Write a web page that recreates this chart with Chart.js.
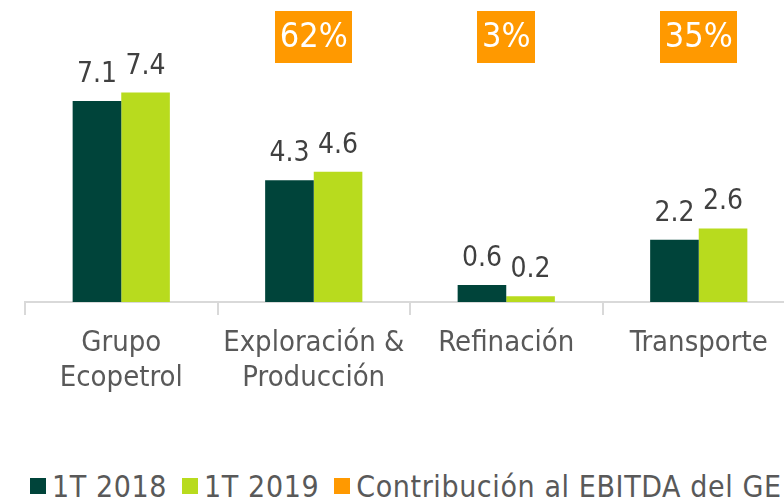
<!DOCTYPE html>
<html>
<head>
<meta charset="utf-8">
<script src="https://cdn.jsdelivr.net/npm/chart.js@4"></script>
<style>
  html, body { margin: 0; padding: 0; background: #fff; overflow: hidden; width: 784px; height: 497px; }
  #wrap { position: absolute; left: 0; top: 0; width: 800px; height: 420px; }
  #legend { position: absolute; left: 30px; top: 470px; height: 32px; display: flex; align-items: center; white-space: nowrap;
            font-family: 'DejaVu Sans Condensed', 'DejaVu Sans', sans-serif; font-size: 30px; letter-spacing: 0.6px; color: #595959; }
  .item { display: flex; align-items: center; margin-right: 15px; }
  .sw { width: 16px; height: 16px; margin-right: 6px; flex: none; }
</style>
</head>
<body>
<div id="wrap"><canvas id="c"></canvas></div>
<div id="legend"></div>
<script>
// ---- data ----
const categories = [['Grupo', 'Ecopetrol'], ['Exploración &', 'Producción'], 'Refinación', 'Transporte'];
const series2018 = [7.1, 4.3, 0.6, 2.2];
const series2019 = [7.4, 4.6, 0.2, 2.6];
const contribution = [null, 62, 3, 35];
const seriesLabels = ['1T 2018', '1T 2019', 'Contribución al EBITDA del GE'];
const seriesColors = ['#00443A', '#B8DB1E', '#FF9900'];

const FONT = "'DejaVu Sans Condensed', 'DejaVu Sans', sans-serif";
Chart.defaults.font.family = FONT;

const valueLabels = {
  id: 'valueLabels',
  afterDatasetsDraw(chart) {
    const ctx = chart.ctx;
    ctx.save();
    ctx.font = "28px " + FONT;
    ctx.fillStyle = '#404040';
    ctx.textAlign = 'center';
    ctx.textBaseline = 'alphabetic';
    chart.data.datasets.forEach((ds, di) => {
      const meta = chart.getDatasetMeta(di);
      meta.data.forEach((el, i) => {
        const v = ds.data[i];
        if (v == null) return;
        ctx.fillText(v.toFixed(1), el.x, el.y - 19);
      });
    });
    ctx.restore();
  }
};

const contribBoxes = {
  id: 'contribBoxes',
  afterDraw(chart) {
    const ctx = chart.ctx;
    const xs = chart.scales.x;
    ctx.save();
    ctx.font = "34px " + FONT;
    ctx.textAlign = 'center';
    ctx.textBaseline = 'middle';
    contribution.forEach((v, i) => {
      if (v == null) return;
      const txt = v + '%';
      const cx = xs.getPixelForValue(i);
      const w = ctx.measureText(txt).width + 9;
      const top = 11, h = 52;
      ctx.fillStyle = seriesColors[2];
      ctx.fillRect(Math.round(cx - w / 2), top, Math.round(w), h);
      ctx.fillStyle = '#FFFFFF';
      ctx.fillText(txt, cx, top + h / 2 + 1);
    });
    ctx.restore();
  }
};

new Chart(document.getElementById('c'), {
  type: 'bar',
  data: {
    labels: categories,
    datasets: [
      { label: seriesLabels[0], data: series2018, backgroundColor: seriesColors[0] },
      { label: seriesLabels[1], data: series2019, backgroundColor: seriesColors[1] }
    ]
  },
  options: {
    responsive: true,
    maintainAspectRatio: false,
    animation: false,
    layout: { padding: { left: 25, right: 5, top: 19, bottom: 0 } },
    datasets: { bar: { categoryPercentage: 0.505, barPercentage: 1.0 } },
    plugins: { legend: { display: false }, tooltip: { enabled: false } },
    scales: {
      x: {
        grid: { display: true, drawOnChartArea: false, drawTicks: true, tickLength: 13, color: '#D9D9D9', lineWidth: 2, offset: true },
        border: { display: true, color: '#D9D9D9', width: 2 },
        ticks: { color: '#595959', font: { size: 29, lineHeight: 1.24 }, padding: 10, maxRotation: 0, autoSkip: false },
        afterFit(s) { s.height = 118; }
      },
      y: {
        display: false,
        min: 0,
        max: 10
      }
    }
  },
  plugins: [valueLabels, contribBoxes]
});

// legend (HTML, from series names/colours)
const lg = document.getElementById('legend');
seriesLabels.forEach((t, i) => {
  const it = document.createElement('div'); it.className = 'item';
  const sw = document.createElement('div'); sw.className = 'sw'; sw.style.background = seriesColors[i];
  const tx = document.createElement('span'); tx.textContent = t;
  it.appendChild(sw); it.appendChild(tx); lg.appendChild(it);
});
</script>
</body>
</html>
